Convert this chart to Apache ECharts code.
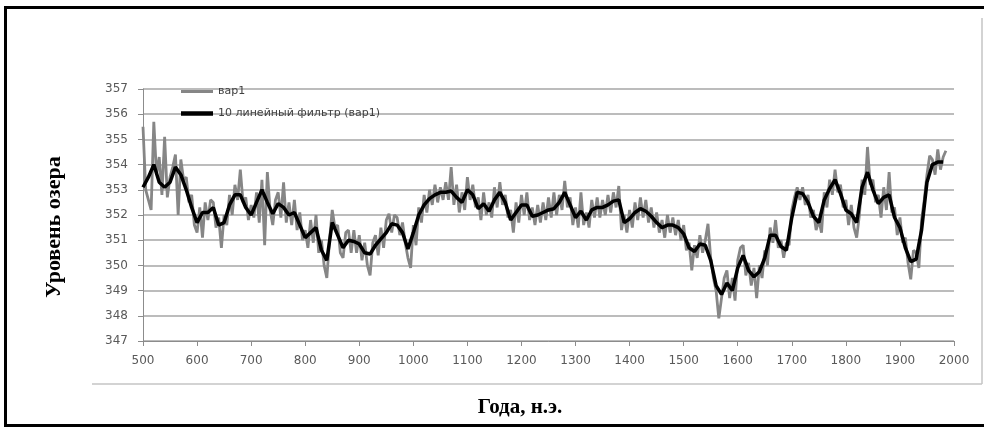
<!DOCTYPE html>
<html>
<head>
<meta charset="utf-8">
<script src="https://cdn.jsdelivr.net/npm/echarts@6/dist/echarts.min.js"></script>
<style>
  html, body { margin: 0; padding: 0; background: #fff; }
  #main { width: 984px; height: 428px; }
</style>
</head>
<body>
<div id="main"></div>
<script>
// уровень озера, сырой ряд (шаг 5 лет, с 500 г.)
var rawStart = 500;
var rawStep = 5;
var rawLevel = [
  355.5, 353.0, 352.6, 352.2, 355.7, 353.6, 354.3, 352.8, 355.1, 352.7, 353.5, 353.9, 354.4, 352.0, 354.2, 353.4, 353.5, 352.5, 352.8, 351.6,
  351.3, 352.3, 351.1, 352.5, 351.8, 352.6, 352.5, 351.5, 351.9, 350.7, 352.0, 351.6, 352.8, 352.0, 353.2, 352.6, 353.8, 352.5, 352.7, 351.8,
  352.4, 351.9, 352.9, 351.7, 353.4, 350.8, 353.7, 352.2, 351.6, 352.6, 352.9, 351.9, 353.3, 351.7, 352.5, 351.6, 352.6, 351.4, 352.1, 351.0,
  351.4, 350.7, 351.8, 350.9, 352.0, 350.5, 351.0, 350.0, 349.5, 351.0, 352.2, 351.5, 351.6, 350.5, 350.3, 351.3, 351.4, 350.5, 351.4, 350.5,
  351.2, 350.2, 350.9, 350.0, 349.6, 350.9, 351.2, 350.4, 351.5, 350.7, 351.8, 352.05, 351.3, 352.0, 351.9, 351.2, 351.7, 350.9, 350.3, 349.9,
  351.6, 350.8, 352.3, 351.7, 352.8, 352.1, 353.0, 352.4, 353.2, 352.5, 353.1, 352.6, 353.3, 352.6, 353.9, 352.4, 353.2, 352.1, 352.9, 352.2,
  353.5, 352.6, 353.2, 352.3, 352.7, 351.8, 352.9, 352.0, 352.5, 351.9, 353.1, 352.3, 353.3, 352.4, 352.8, 351.9, 352.2, 351.3, 352.5, 351.7,
  352.8, 352.0, 352.9, 351.8, 352.3, 351.6, 352.4, 351.7, 352.5, 351.8, 352.7, 351.9, 352.9, 352.0, 352.8, 352.2, 353.35, 352.3, 352.7, 351.6,
  352.3, 351.5, 352.9, 351.6, 352.1, 351.5, 352.6, 351.9, 352.7, 351.9, 352.6, 352.0, 352.8, 352.1, 352.9, 352.3, 353.15, 351.4, 352.0, 351.3,
  352.2, 351.5, 352.5, 351.8, 352.7, 351.9, 352.6, 351.7, 352.3, 351.5, 352.1, 351.3, 351.8, 351.1, 352.0, 351.3, 351.9, 351.2, 351.8, 351.0,
  351.6, 350.6, 350.9, 349.8, 350.8, 350.3, 351.2, 350.5, 351.0, 351.65, 350.3, 349.5, 349.0, 347.9, 348.7, 349.5, 349.8, 348.7, 349.5, 348.6,
  350.2, 350.7, 350.8, 349.6, 350.1, 349.2, 349.9, 348.7, 350.0, 349.5, 350.6, 350.0, 351.5, 350.9, 351.8, 350.7, 351.0, 350.3, 350.9, 350.8,
  352.2, 352.7, 353.1, 352.6, 353.1, 352.4, 352.8, 351.9, 352.2, 351.4, 351.8, 351.3, 352.9, 352.3, 353.4, 352.8, 353.8, 352.9, 353.2, 352.3,
  352.6, 351.6, 352.4, 351.5, 351.1, 352.0, 353.4, 352.8, 354.7, 353.2, 353.4, 352.5, 352.8, 351.9, 353.1, 352.2, 353.7, 352.1, 352.3, 351.2,
  351.9, 350.9, 351.1, 350.1, 349.45, 350.6, 350.5, 349.9, 351.8, 352.6, 353.6, 354.35, 354.2, 353.6, 354.6, 353.8, 354.3, 354.55
];

// 10-летний линейный фильтр (шаг 10 лет, с 500 г.)
var filtStart = 500;
var filtStep = 10;
var filtLevel = [
  353.1, 353.5, 354.0, 353.3, 353.1, 353.3, 353.9, 353.6, 353.0, 352.3,
  351.7, 352.1, 352.1, 352.3, 351.6, 351.7, 352.4, 352.8, 352.8, 352.3,
  352.0, 352.5, 353.0, 352.5, 352.05, 352.45, 352.3, 352.0, 352.1, 351.6,
  351.1, 351.3, 351.5, 350.6, 350.2, 351.7, 351.2, 350.7, 351.0, 350.95,
  350.85, 350.5, 350.45, 350.8, 351.05, 351.3, 351.65, 351.6, 351.3, 350.65,
  351.3, 352.0, 352.4, 352.65, 352.8, 352.9, 352.9, 352.95, 352.7, 352.5,
  353.0, 352.8, 352.25, 352.45, 352.15, 352.6, 352.9, 352.5, 351.8, 352.1,
  352.4, 352.4, 351.95, 352.0, 352.1, 352.2, 352.25, 352.5, 352.9, 352.4,
  351.9, 352.15, 351.8, 352.2, 352.3, 352.3, 352.4, 352.55, 352.6, 351.7,
  351.85, 352.1, 352.25, 352.15, 351.95, 351.7, 351.5, 351.6, 351.6, 351.5,
  351.25, 350.7, 350.55, 350.85, 350.8, 350.2, 349.2, 348.85, 349.3, 349.0,
  349.9, 350.4, 349.8, 349.55, 349.75, 350.3, 351.2, 351.2, 350.75, 350.6,
  351.9, 352.9, 352.85, 352.5, 351.95, 351.7, 352.6, 353.05, 353.4, 352.85,
  352.2, 352.05, 351.7, 353.1, 353.7, 353.0, 352.45, 352.7, 352.8, 351.9,
  351.5, 350.7, 350.15, 350.25, 351.4, 353.3, 354.0, 354.1, 354.1
];

var yearTicks = { min: 500, max: 2000, step: 100 };
var levelTicks = { min: 347, max: 357, step: 1 };

var rawData = rawLevel.map(function (v, i) { return [rawStart + i * rawStep, v]; });
var filtData = filtLevel.map(function (v, i) { return [filtStart + i * filtStep, v]; });

var labelFont = { color: '#595959', fontSize: 12, fontFamily: 'DejaVu Sans' };

var myChart = echarts.init(document.getElementById('main'));
var option = {
  backgroundColor: '#fff',
  animation: false,
  grid: { left: 143, right: 30, top: 89, bottom: 87 },
  legend: {
    left: 176, top: 81, orient: 'vertical',
    itemWidth: 32, itemHeight: 14, itemGap: 11,
    symbolKeepAspect: true,
    textStyle: { color: '#404040', fontSize: 11, fontFamily: 'DejaVu Sans' },
    data: [
      { name: 'вар1', icon: 'path://M0,0H32V3H0Z' },
      { name: '10 линейный фильтр (вар1)', icon: 'path://M0,0H32V4.5H0Z' }
    ]
  },
  xAxis: {
    type: 'value',
    min: yearTicks.min, max: yearTicks.max, interval: yearTicks.step,
    axisLine: { show: true, lineStyle: { color: '#8c8c8c', width: 1 } },
    axisTick: { show: true, length: 5, lineStyle: { color: '#8c8c8c' } },
    axisLabel: Object.assign({ margin: 14, formatter: function (v) { return String(v); } }, labelFont),
    splitLine: { show: false }
  },
  yAxis: {
    type: 'value',
    min: levelTicks.min, max: levelTicks.max, interval: levelTicks.step,
    axisLine: { show: true, lineStyle: { color: '#8c8c8c', width: 1 } },
    axisTick: { show: true, length: 5, lineStyle: { color: '#8c8c8c' } },
    axisLabel: Object.assign({ margin: 15, formatter: function (v) { return String(v); } }, labelFont),
    splitLine: { show: true, lineStyle: { color: '#a6a6a6', width: 1.5 } }
  },
  series: [
    {
      name: 'вар1', type: 'line', data: rawData,
      symbol: 'none', z: 2,
      itemStyle: { color: '#868686' },
      lineStyle: { color: '#868686', width: 2.8 }
    },
    {
      name: '10 линейный фильтр (вар1)', type: 'line', data: filtData,
      symbol: 'none', z: 3,
      itemStyle: { color: '#000' },
      lineStyle: { color: '#000', width: 3.5 }
    }
  ],
  graphic: [
    { type: 'rect', silent: true, shape: { x: 5.5, y: 7.5, width: 995, height: 418 },
      style: { fill: null, stroke: '#000', lineWidth: 3 } },
    { type: 'line', silent: true, shape: { x1: 92, y1: 384, x2: 982, y2: 384 },
      style: { stroke: '#c4c4c4', lineWidth: 1.5 } },
    { type: 'line', silent: true, shape: { x1: 982, y1: 18, x2: 982, y2: 384 },
      style: { stroke: '#c4c4c4', lineWidth: 1.5 } },
    { type: 'text', silent: true, x: 520, y: 408,
      style: { text: 'Года, н.э.', fill: '#000', font: 'bold 21px "Liberation Serif"',
        textAlign: 'center', textVerticalAlign: 'middle' } },
    { type: 'text', silent: true, x: 54, y: 227, rotation: Math.PI / 2,
      style: { text: 'Уровень озера', fill: '#000', font: 'bold 22px "Liberation Serif"',
        textAlign: 'center', textVerticalAlign: 'middle' } }
  ]
};
myChart.setOption(option);
</script>
</body>
</html>
